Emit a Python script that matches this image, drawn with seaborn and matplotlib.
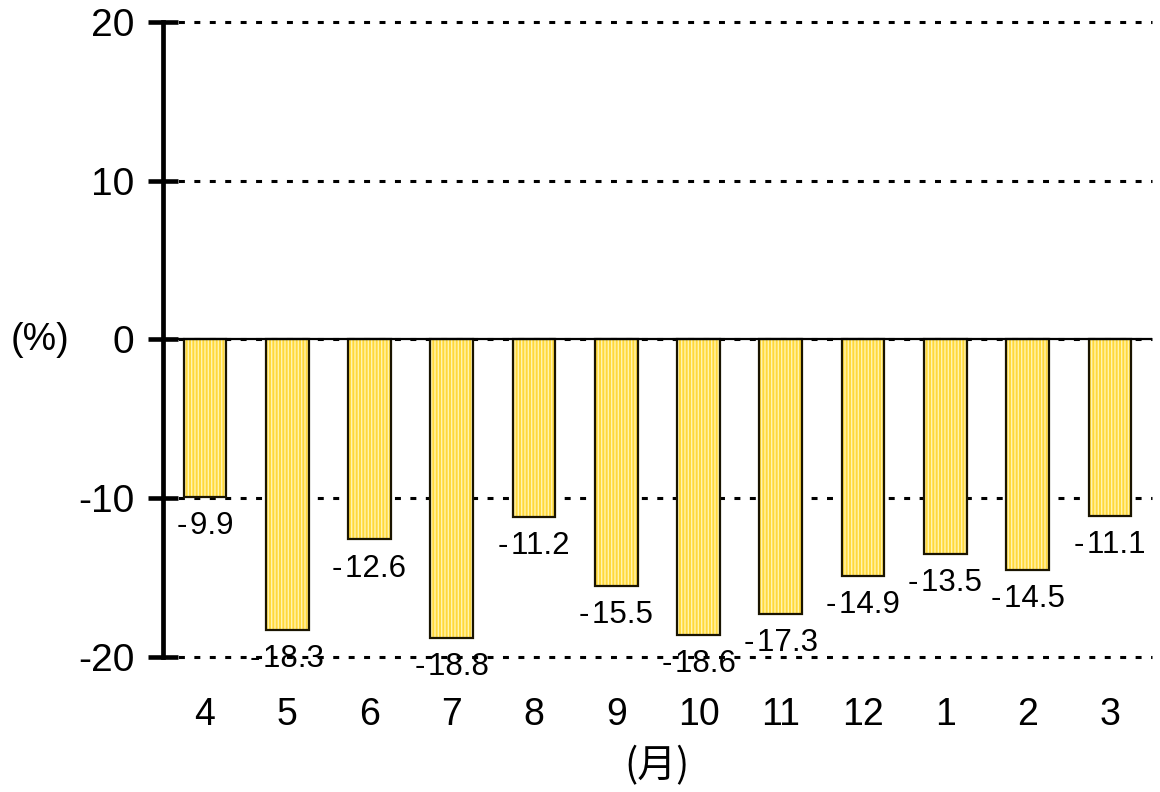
import matplotlib
matplotlib.use("Agg")
import matplotlib.pyplot as plt
import seaborn as sns
import pandas as pd

# ---- data ----
months = ["4", "5", "6", "7", "8", "9", "10", "11", "12", "1", "2", "3"]
values = [-9.9, -18.3, -12.6, -18.8, -11.2, -15.5, -18.6, -17.3, -14.9, -13.5, -14.5, -11.1]
yticks = [-20, -10, 0, 10, 20]
ylabel_text = "(%)"
xlabel_text = "(月)"

sns.set_theme(style="white")
plt.rcParams["font.family"] = ["Liberation Sans", "Noto Sans CJK JP", "DejaVu Sans"]
plt.rcParams["hatch.linewidth"] = 1.0

df = pd.DataFrame({"month": months, "value": values})

fig, ax = plt.subplots(figsize=(11.6, 7.92), dpi=100)
fig.subplots_adjust(left=0.1405, right=0.993, top=0.9722, bottom=0.1705)

# gridlines (dotted) behind
ax.set_axisbelow(True)
ax.yaxis.grid(True, color="black", linewidth=2.2, linestyle=(0, (1.95, 3.1)))
ax.xaxis.grid(False)

# striped fill pass
sns.barplot(data=df, x="month", y="value", order=months, width=0.52,
            color="#FFD83A", saturation=1, errorbar=None, ax=ax)
for p in ax.patches:
    p.set_hatch("|||||")
    p.set_edgecolor("#FFF4B0")
    p.set_linewidth(0)

# outline pass
sns.barplot(data=df, x="month", y="value", order=months, width=0.52,
            color="#1a1400", fill=False, saturation=1, errorbar=None,
            linewidth=1.6, ax=ax)

# zero line
ax.axhline(0, color="black", linewidth=1.6, zorder=3)

# value labels
for i, v in enumerate(values):
    txt = f"{v:.1f}".replace("-", "-\u200a")
    ax.annotate(txt, xy=(i, v), xytext=(0, -21), textcoords="offset points",
                ha="center", va="center", fontsize=22.5, color="black", zorder=5)

ax.set_ylim(-20, 20)
ax.set_yticks(yticks)
ax.set_yticklabels([str(t) for t in yticks])
ax.set_xlim(-0.51, len(months) - 0.49)

for gl in ax.get_ygridlines():
    gl.set_clip_on(False)

for s in ["top", "right", "bottom"]:
    ax.spines[s].set_visible(False)
ax.spines["left"].set_linewidth(3.4)
ax.spines["left"].set_color("black")

ax.tick_params(axis="y", left=True, direction="inout", length=21, width=3.3, color="black",
               labelsize=28, pad=10, labelcolor="black")
ax.tick_params(axis="x", bottom=False, length=0, labelsize=27, pad=29, labelcolor="black")

ax.set_xlabel(xlabel_text, fontsize=28, family=["Noto Sans CJK JP", "DejaVu Sans"],
              labelpad=9, color="black")
ax.set_ylabel(ylabel_text, rotation=0, fontsize=27, ha="center", va="center", color="black")
ax.yaxis.set_label_coords(-0.1244, 0.4992)

fig.savefig("out.png", dpi=100)
